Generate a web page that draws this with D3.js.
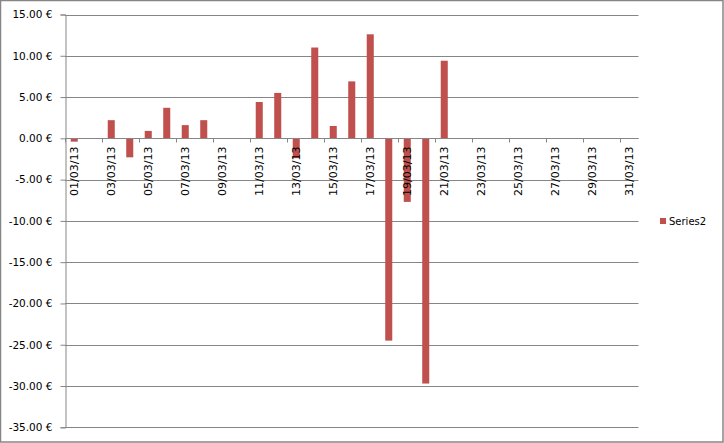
<!DOCTYPE html>
<html><head><meta charset="utf-8">
<script src="https://cdn.jsdelivr.net/npm/d3@7"></script>
<style>body{margin:0;background:#fff}svg{display:block}text{font-family:"DejaVu Sans",Verdana,sans-serif}</style>
</head><body>
<script>
const categories = ["01/03/13","02/03/13","03/03/13","04/03/13","05/03/13","06/03/13","07/03/13","08/03/13","09/03/13","10/03/13","11/03/13","12/03/13","13/03/13","14/03/13","15/03/13","16/03/13","17/03/13","18/03/13","19/03/13","20/03/13","21/03/13","22/03/13","23/03/13","24/03/13","25/03/13","26/03/13","27/03/13","28/03/13","29/03/13","30/03/13","31/03/13"];
const series2 = [-0.4,0,2.2,-2.3,0.9,3.7,1.6,2.2,0,0,4.4,5.5,-2.4,11.0,1.5,6.9,12.6,-24.5,-7.7,-29.7,9.4,0,0,0,0,0,0,0,0,0,0];
const yTicks = [15,10,5,0,-5,-10,-15,-20,-25,-30,-35];
const seriesName = "Series2";

(function(){
const W=724,H=443;
const svg=d3.select("body").append("svg").attr("width",W).attr("height",H);
svg.append("rect").attr("x",0.5).attr("y",0.5).attr("width",W-1.5).attr("height",H-1.5).attr("fill","#fff").attr("stroke","#868686").attr("stroke-width",1.5);

const pLeft=65,pRight=638.5,pTop=14.5,pBottom=427.3;
const x=d3.scaleBand().domain(categories).range([pLeft,pRight]).paddingInner(0.62).paddingOuter(0.31);
const y=d3.scaleLinear().domain([-35,15]).range([pBottom,pTop]);
const fmt=v=>v.toFixed(2)+" €";

svg.append("g").selectAll("line").data(yTicks).join("line")
  .attr("x1",pLeft).attr("x2",pRight).attr("y1",d=>Math.round(y(d))+0.5).attr("y2",d=>Math.round(y(d))+0.5)
  .attr("stroke","#868686").attr("stroke-width",1);

const ya=svg.append("g").attr("transform",`translate(${pLeft+0.5},0)`)
  .call(d3.axisLeft(y).tickValues(yTicks).tickFormat(fmt).tickSize(5).tickPadding(8));
ya.select(".domain").attr("stroke","#868686");
ya.selectAll(".tick line").attr("stroke","#868686");
ya.selectAll("text").attr("font-size","10.5px").attr("fill","#000").attr("font-family","DejaVu Sans, Verdana, sans-serif");

const step=x.step();
svg.append("g").selectAll("rect").data(series2.map((v,i)=>({c:categories[i],v}))).join("rect")
  .attr("x",d=>x(d.c)).attr("width",x.bandwidth())
  .attr("y",d=>y(Math.max(0,d.v))).attr("height",d=>Math.abs(y(d.v)-y(0)))
  .attr("fill","#C0504D");

const y0=Math.round(y(0))+0.5;
svg.append("line").attr("x1",pLeft).attr("x2",pRight).attr("y1",y0).attr("y2",y0).attr("stroke","#868686");
const tickIdx=d3.range(0,31,2);
svg.append("g").selectAll("line").data(tickIdx).join("line")
  .attr("x1",i=>Math.round(pLeft+i*step)+0.5).attr("x2",i=>Math.round(pLeft+i*step)+0.5)
  .attr("y1",y0).attr("y2",y0+4).attr("stroke","#868686");
svg.append("g").selectAll("text").data(categories.filter((c,i)=>i%2===0)).join("text")
  .attr("transform",d=>`translate(${x(d)+x.bandwidth()/2+4},${y0+8}) rotate(-90)`)
  .attr("text-anchor","end").attr("font-size","11px").attr("fill","#000").text(d=>d);

svg.append("rect").attr("x",660).attr("y",218).attr("width",6).attr("height",6).attr("fill","#C0504D");
svg.append("text").attr("x",669).attr("y",225).attr("font-size","10px").attr("fill","#000").text(seriesName);
})();
</script>
</body></html>
